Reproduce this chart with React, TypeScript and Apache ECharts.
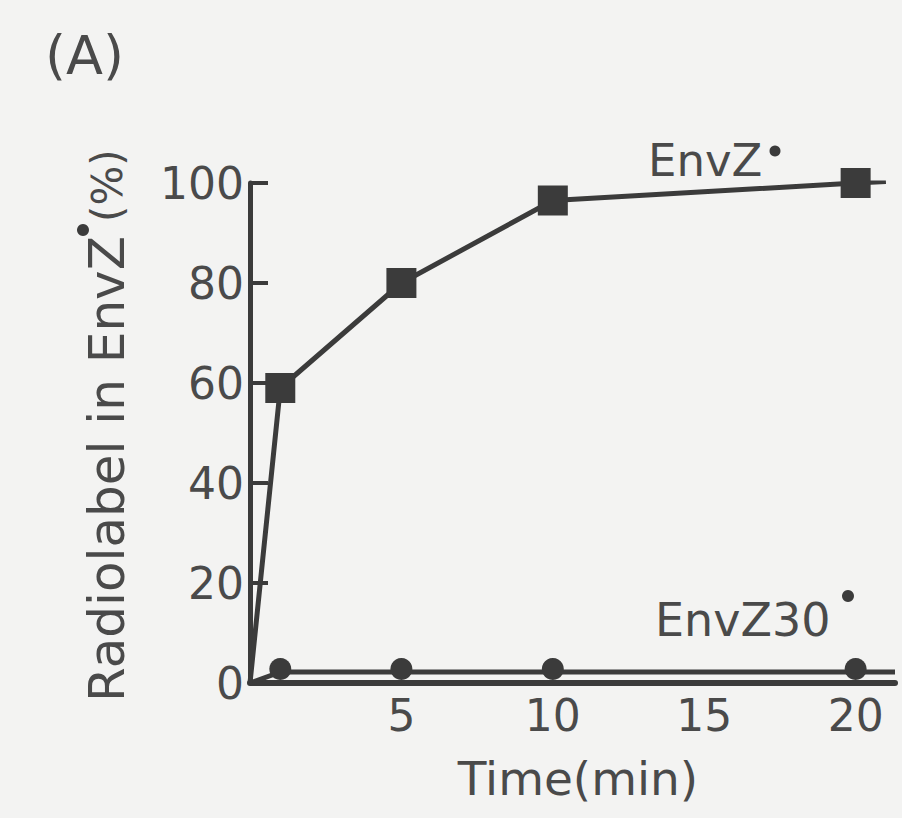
import React, { useEffect, useRef } from "react";
import * as echarts from "echarts";

// ---- data ----
const envZTime = [0, 1, 5, 10, 20, 21];
const envZValues = [0, 59, 80, 96.5, 100, 100.3];
const envZMarked = [false, true, true, true, true, false];

const envZ30Time = [0, 1, 5, 10, 20, 21.3];
const envZ30Values = [0, 2.2, 2.2, 2.2, 2.2, 2.2];
const envZ30Marked = [false, true, true, true, true, false];

const xTicks = [5, 10, 15, 20];
const yTicks = [0, 20, 40, 60, 80, 100];

const panelLabel = "(A)";
const xTitle = "Time(min)";
const yTitleMain = "Radiolabel in EnvZ";
const yTitleEnd = "(%)";
const envZName = "EnvZ";
const envZ30Name = "EnvZ30";

const INK = "#3b3b3b";
const TEXT = "#4a4a4a";
const FONT = "DejaVu Sans";

export default function App() {
  const ref = useRef<HTMLDivElement>(null);

  useEffect(() => {
    document.body.style.margin = "0";
    if (!ref.current) return;
    const chart = echarts.init(ref.current, null, { renderer: "svg" });

    const mk = (t: number[], v: number[], m: boolean[]) =>
      t.map((x, i) => (m[i] ? { value: [x, v[i]] } : { value: [x, v[i]], symbol: "none" }));

    chart.setOption({
      animation: false,
      backgroundColor: "#f3f3f2",
      grid: { left: 250, right: 7, top: 183, bottom: 135 },
      xAxis: {
        type: "value",
        min: 0,
        max: 21.3,
        interval: 5,
        axisLine: { show: true, onZero: true, lineStyle: { color: INK, width: 6 } },
        axisTick: { show: false },
        splitLine: { show: false },
        axisLabel: {
          color: TEXT,
          fontFamily: FONT,
          fontSize: 44,
          margin: 10,
          formatter: (v: number) => (xTicks.includes(v) ? String(v) : ""),
        },
      },
      yAxis: {
        type: "value",
        min: 0,
        max: 100,
        interval: 20,
        axisLine: { show: true, onZero: true, lineStyle: { color: INK, width: 5 } },
        axisTick: { show: true, inside: true, length: 18, lineStyle: { color: INK, width: 4 } },
        splitLine: { show: false },
        axisLabel: {
          color: TEXT,
          fontFamily: FONT,
          fontSize: 44,
          margin: 6,
          formatter: (v: number) => (yTicks.includes(v) ? String(v) : ""),
        },
      },
      series: [
        {
          type: "line",
          name: envZ30Name,
          data: mk(envZ30Time, envZ30Values, envZ30Marked),
          symbol: "circle",
          symbolSize: 22,
          symbolOffset: [0, -3],
          lineStyle: { color: INK, width: 5 },
          itemStyle: { color: INK },
        },
        {
          type: "line",
          name: envZName,
          data: mk(envZTime, envZValues, envZMarked),
          symbol: "rect",
          symbolSize: 30,
          lineStyle: { color: INK, width: 5 },
          itemStyle: { color: INK },
        },
      ],
      graphic: [
        {
          type: "text",
          x: 45,
          y: 55,
          style: { text: panelLabel, fontFamily: FONT, fontSize: 54, fill: TEXT, align: "left", verticalAlign: "middle" },
        },
        {
          type: "text",
          x: 578,
          y: 778,
          style: { text: xTitle, fontFamily: FONT, fontSize: 47, fill: TEXT, align: "center", verticalAlign: "middle" },
        },
        {
          type: "text",
          x: 648,
          y: 160,
          style: { text: envZName, fontFamily: FONT, fontSize: 45, fill: TEXT, align: "left", verticalAlign: "middle" },
        },
        { type: "circle", shape: { cx: 775, cy: 151, r: 5.5 }, style: { fill: INK } },
        {
          type: "text",
          x: 655,
          y: 620,
          style: { text: envZ30Name, fontFamily: FONT, fontSize: 46, fill: TEXT, align: "left", verticalAlign: "middle" },
        },
        { type: "circle", shape: { cx: 848, cy: 596, r: 6 }, style: { fill: INK } },
        {
          type: "group",
          x: 107,
          y: 702,
          rotation: Math.PI / 2,
          children: [
            {
              type: "text",
              x: 0,
              y: 0,
              style: { text: yTitleMain, fontFamily: FONT, fontSize: 50, fill: TEXT, align: "left", verticalAlign: "middle" },
            },
            { type: "circle", shape: { cx: 472, cy: -24, r: 6 }, style: { fill: INK } },
            {
              type: "text",
              x: 480,
              y: 0,
              style: { text: yTitleEnd, fontFamily: FONT, fontSize: 42, fill: TEXT, align: "left", verticalAlign: "middle" },
            },
          ],
        },
      ],
    });

    return () => chart.dispose();
  }, []);

  return (
    <div
      ref={ref}
      style={{ position: "fixed", left: 0, top: 0, width: 902, height: 818, background: "#f3f3f2" }}
    />
  );
}
